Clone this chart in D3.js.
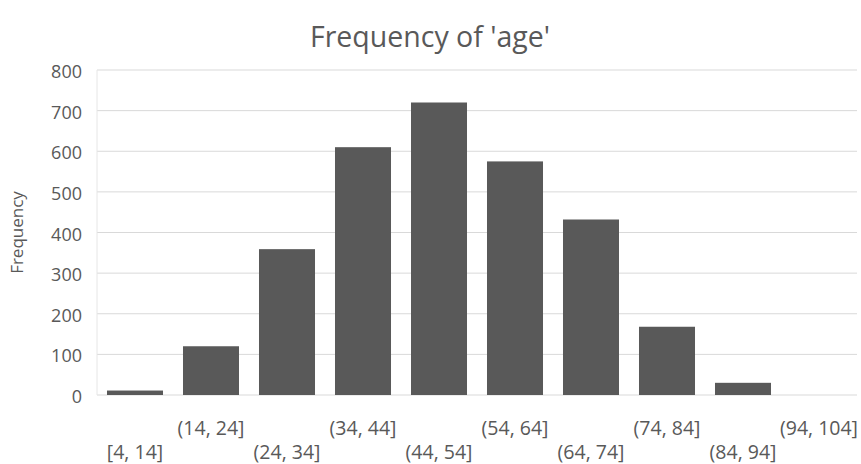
<!DOCTYPE html>
<html><head><meta charset="utf-8">
<script src="https://cdn.jsdelivr.net/npm/d3@7"></script>
<style>body{margin:0;background:#fff}svg{display:block}</style>
</head><body>
<svg id="c" width="861" height="464"></svg>
<script>
const categories = ["[4, 14]","(14, 24]","(24, 34]","(34, 44]","(44, 54]","(54, 64]","(64, 74]","(74, 84]","(84, 94]","(94, 104]"];
const values = [11, 120, 359, 610, 720, 575, 432, 168, 30, 0];
const yTicks = [0,100,200,300,400,500,600,700,800];
const title = "Frequency of 'age'";
const yLabel = "Frequency";

const svg = d3.select("#c");
const m = {l:97, r:4, t:70, b:69};
const W = 861, H = 464;
const font = "'Open Sans', sans-serif";
const x = d3.scaleBand().domain(categories).range([m.l, W - m.r]).paddingInner(0.263).paddingOuter(0.1315);
const y = d3.scaleLinear().domain([0, 800]).range([H - m.b, m.t]);

svg.append("g").selectAll("line").data(yTicks).join("line")
  .attr("x1", m.l).attr("x2", W - m.r)
  .attr("y1", d => y(d)).attr("y2", d => y(d))
  .attr("stroke", "#d9d9d9").attr("stroke-width", 1);
svg.append("line").attr("x1", m.l).attr("x2", m.l).attr("y1", y(800)).attr("y2", y(0))
  .attr("stroke", "#e6e6e6");

svg.append("g").selectAll("rect").data(values).join("rect")
  .attr("x", (d,i) => x(categories[i]))
  .attr("y", d => y(d))
  .attr("width", x.bandwidth())
  .attr("height", d => y(0) - y(d))
  .attr("fill", "#595959");

const ya = d3.axisLeft(y).tickValues(yTicks).tickSize(0).tickPadding(15);
svg.append("g").attr("transform", `translate(${m.l},0)`).call(ya)
  .attr("font-family", font).attr("font-size", 18)
  .call(g => g.select(".domain").remove())
  .selectAll("text").attr("fill", "#595959").attr("dy", "0.42em");

const xa = d3.axisBottom(x).tickSize(0).tickPadding(0);
svg.append("g").attr("transform", `translate(0,${y(0)})`).call(xa)
  .attr("font-family", font).attr("font-size", 19.5)
  .call(g => g.select(".domain").remove())
  .selectAll("text")
  .attr("dy", null)
  .attr("y", (d,i) => i % 2 === 0 ? 63.5 : 39.5)
  .attr("fill", "#595959");

svg.append("text").attr("x", 430).attr("y", 47).attr("text-anchor", "middle")
  .attr("fill", "#595959").attr("font-family", font).attr("font-size", 28.5).text(title);

svg.append("text").attr("transform", `translate(23,${(y(0)+y(800))/2}) rotate(-90)`)
  .attr("text-anchor", "middle").attr("fill", "#595959")
  .attr("font-family", font).attr("font-size", 17).text(yLabel);
</script>
</body></html>
